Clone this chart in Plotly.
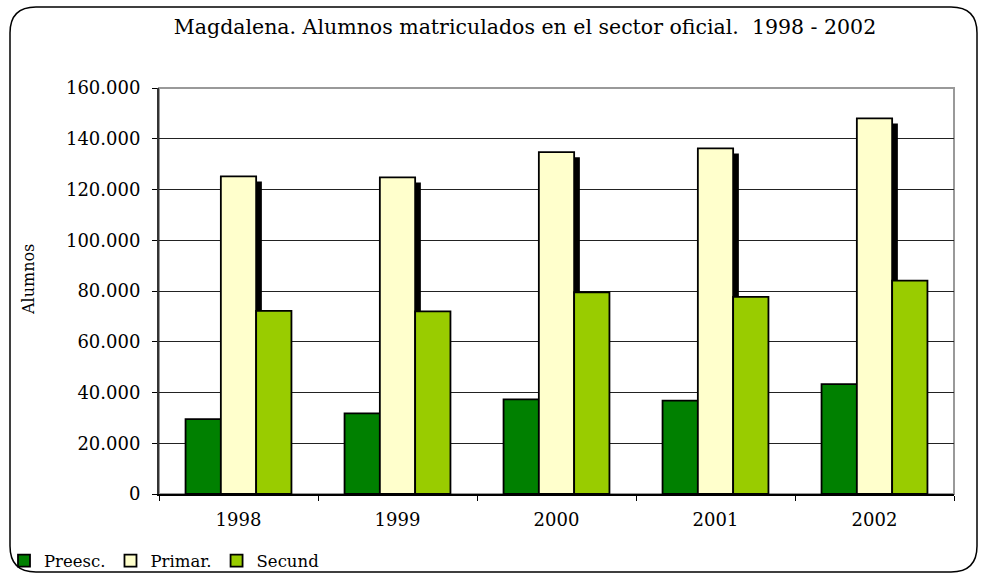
import plotly.graph_objects as go

years = ["1998", "1999", "2000", "2001", "2002"]
preesc = [29500, 31800, 37300, 36800, 43300]
primar = [125200, 124800, 134700, 136200, 148000]
secund = [72200, 72000, 79500, 77700, 84100]
series_names = ["Preesc.", "Primar.", "Secund"]
y_ticks = [0, 20000, 40000, 60000, 80000, 100000, 120000, 140000, 160000]

W, H = 981, 576
L, R, T, B = 159, 954, 88, 494
FONT = "DejaVu Serif"

def px_x(p):
    return (p - L) / (R - L)

def px_y(p):
    return (B - p) / (B - T)

bw = 0.222
shadow_dx = 0.036
shadow_dy = 2000

fig = go.Figure()
line = dict(color="black", width=1.8)
fig.add_trace(go.Bar(x=years, y=preesc, name=series_names[0], offset=-1.5 * bw, width=bw,
                     marker=dict(color="#008000", line=line)))
fig.add_trace(go.Bar(x=years, y=[v - shadow_dy for v in primar], showlegend=False, hoverinfo="skip",
                     offset=-0.5 * bw + shadow_dx, width=bw,
                     marker=dict(color="black", line=dict(width=0))))
fig.add_trace(go.Bar(x=years, y=primar, name=series_names[1], offset=-0.5 * bw, width=bw,
                     marker=dict(color="#FFFFCC", line=line)))
fig.add_trace(go.Bar(x=years, y=secund, name=series_names[2], offset=0.5 * bw, width=bw,
                     marker=dict(color="#99CC00", line=line)))

# rounded outer border (pixel geometry converted to paper coords)
x0, x1, y0, y1, r = 10, 977, 7, 572, 26
path = (f"M {px_x(x0 + r)} {px_y(y0)} L {px_x(x1 - r)} {px_y(y0)} "
        f"Q {px_x(x1)} {px_y(y0)} {px_x(x1)} {px_y(y0 + r)} "
        f"L {px_x(x1)} {px_y(y1 - r)} Q {px_x(x1)} {px_y(y1)} {px_x(x1 - r)} {px_y(y1)} "
        f"L {px_x(x0 + r)} {px_y(y1)} Q {px_x(x0)} {px_y(y1)} {px_x(x0)} {px_y(y1 - r)} "
        f"L {px_x(x0)} {px_y(y0 + r)} Q {px_x(x0)} {px_y(y0)} {px_x(x0 + r)} {px_y(y0)} Z")

fig.update_layout(
    width=W, height=H,
    margin=dict(l=L, r=W - R, t=T, b=H - B, pad=0, autoexpand=False),
    paper_bgcolor="white", plot_bgcolor="white",
    barmode="overlay",
    separators=",.",
    font=dict(family=FONT, size=18, color="black"),
    title=dict(text="Magdalena. Alumnos matriculados en el sector oficial.\u00a0 1998 - 2002",
               x=525 / W, xanchor="center", y=1 - 27 / H, yanchor="middle",
               font=dict(family=FONT, size=20.5, color="black")),
    showlegend=True,
    legend=dict(orientation="h", x=px_x(4), xanchor="left", y=px_y(561), yanchor="middle",
                font=dict(family=FONT, size=16.5, color="black"), bgcolor="rgba(0,0,0,0)",
                traceorder="normal"),
    annotations=[dict(text="Alumnos", xref="paper", yref="paper", x=px_x(28), y=px_y(280),
                      xanchor="center", yanchor="middle", textangle=-90, showarrow=False,
                      font=dict(family=FONT, size=16, color="black"))],
    shapes=[
        dict(type="rect", xref="paper", yref="paper", x0=0, x1=1, y0=0, y1=1,
             line=dict(color="#999999", width=2), layer="below"),
        dict(type="path", xref="paper", yref="paper", path=path,
             line=dict(color="black", width=1.5), layer="below"),
    ],
)
fig.update_xaxes(type="category", showgrid=False, showline=True, linecolor="black", linewidth=1.5,
                 ticks="outside", tickson="boundaries", ticklen=5, tickcolor="black",
                 ticklabelstandoff=9,
                 tickfont=dict(family=FONT, size=18), range=[-0.5, 4.5])
fig.update_yaxes(range=[0, 160000], tickvals=y_ticks, tickformat=",d",
                 showgrid=True, gridcolor="#222222", gridwidth=1,
                 showline=True, linecolor="#333333", linewidth=2,
                 ticks="outside", ticklen=5, tickcolor="black",
                 ticklabelstandoff=8,
                 tickfont=dict(family=FONT, size=18), zeroline=False)

fig.write_html("out.html", config={"displayModeBar": False},
               post_script="document.body.style.margin='0';document.body.style.overflow='hidden';")
